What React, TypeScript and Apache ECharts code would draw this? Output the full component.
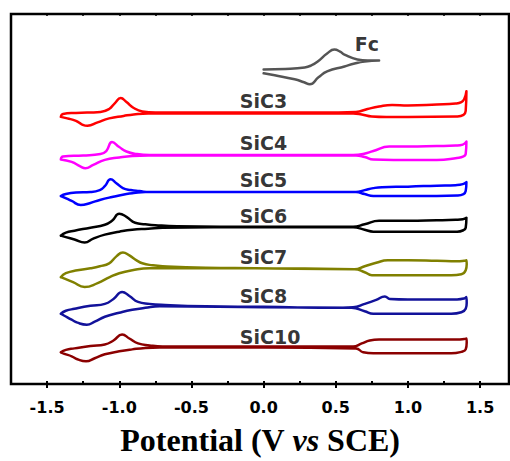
import React, { useEffect, useRef } from "react";
import * as echarts from "echarts";

// Sample names, colours and the vertical offset of each stacked voltammogram
const sampleNames = ["Fc", "SiC3", "SiC4", "SiC5", "SiC6", "SiC7", "SiC8", "SiC10"];
const sampleColors = ["#555555", "#ff0000", "#ff00ff", "#0000ff", "#000000", "#808000", "#12129a", "#8b0000"];
const baselineOffsets = [318, 274, 231.5, 194, 159, 117, 78, 38];
// label anchor (potential, stacked current) for each sample name
const labelAnchors: [number, number][] = [
  [0.631, 344], [-0.165, 286], [-0.165, 243.5], [-0.165, 206.5],
  [-0.165, 169.5], [-0.165, 128], [-0.165, 88.5], [-0.165, 48],
];

// x-axis tick labels
const potentialTicks = [-1.5, -1.0, -0.5, 0.0, 0.5, 1.0, 1.5];

// Each curve: [potential (V vs SCE), current relative to its baseline (a.u.)]
const fc: [number, number][] = [
  [0.0, 0], [0.15, 0.5], [0.285, 2], [0.33, 4], [0.375, 8], [0.44, 16], [0.49, 20], [0.53, 18],
  [0.56, 15], [0.65, 10], [0.72, 9], [0.80, 9],
  [0.70, 8], [0.63, 6], [0.56, 3], [0.44, -2], [0.38, -8], [0.32, -15], [0.28, -13],
  [0.215, -10], [0.077, -6], [0.0, -4],
];
const sic3: [number, number][] = [
  [-1.405, -4], [-1.39, -1], [-1.30, 0], [-1.13, 1], [-1.07, 4], [-1.03, 10], [-0.99, 15], [-0.95, 11],
  [-0.90, 5], [-0.84, 1.5], [-0.75, 0.5], [0.52, 0.5], [0.64, 1], [0.72, 4], [0.80, 6.5], [0.89, 8],
  [1.00, 7.5], [1.20, 8.5], [1.33, 9.5], [1.37, 11], [1.39, 14], [1.405, 22],
  [1.40, 2], [1.385, -2], [1.34, -3.5], [1.0, -4], [0.85, -4], [0.75, -3.5], [0.68, -1.5], [0.62, -0.5],
  [-0.80, -0.5], [-0.90, -1.5], [-0.97, -3], [-1.07, -5.5], [-1.15, -9.5], [-1.22, -13], [-1.26, -11.5],
  [-1.30, -8], [-1.36, -5.5], [-1.405, -4],
];
const sic4: [number, number][] = [
  [-1.405, -4.5], [-1.39, -1.5], [-1.25, -0.5], [-1.13, 1], [-1.09, 4], [-1.05, 13], [-1.00, 8],
  [-0.95, 3.5], [-0.88, 1], [-0.79, 0], [0.62, 0], [0.69, 1], [0.76, 4], [0.87, 8.5], [1.00, 8.5],
  [1.20, 9], [1.33, 9.5], [1.38, 10.5], [1.405, 13.5],
  [1.40, 1], [1.385, -1.5], [1.34, -3], [1.2, -5], [0.9, -5], [0.76, -4.5], [0.70, -2], [0.64, -0.5],
  [-0.80, -0.5], [-0.91, -1], [-1.00, -2.5], [-1.10, -5], [-1.18, -10], [-1.235, -13.5], [-1.27, -11.5],
  [-1.33, -7], [-1.405, -4.5],
];
const sic5: [number, number][] = [
  [-1.405, -4], [-1.37, -2], [-1.30, -0.5], [-1.20, 0], [-1.135, 2], [-1.10, 6], [-1.06, 13], [-1.02, 9],
  [-0.975, 4], [-0.92, 2], [-0.86, 1], [-0.79, 0], [0.64, 0], [0.70, 2], [0.76, 4], [0.82, 5], [1.00, 5.5],
  [1.20, 6.5], [1.33, 7], [1.38, 8], [1.405, 10],
  [1.40, 1], [1.385, -2], [1.34, -3.5], [1.2, -4], [0.9, -4], [0.76, -4], [0.70, -2], [0.64, 0],
  [-0.82, 0], [-0.90, -1], [-0.95, -2], [-1.05, -5], [-1.135, -8], [-1.20, -11], [-1.267, -13],
  [-1.33, -9], [-1.38, -5.5], [-1.405, -4],
];
const sic6: [number, number][] = [
  [-1.405, -9], [-1.37, -6], [-1.31, -4], [-1.20, -1], [-1.10, 2], [-1.05, 6], [-1.00, 13], [-0.95, 10],
  [-0.89, 4], [-0.82, 2.5], [-0.75, 1.5], [-0.6, 0.5], [0.0, 0], [0.62, 0], [0.70, 2.5], [0.80, 6],
  [1.00, 6], [1.20, 6.5], [1.33, 7], [1.38, 7.5], [1.405, 9],
  [1.40, -1], [1.385, -3.5], [1.34, -5], [1.0, -5], [0.76, -5], [0.70, -3], [0.62, -0.5], [0.0, -0.5],
  [-0.70, -1], [-0.80, -2], [-0.91, -3], [-1.00, -5], [-1.10, -8], [-1.18, -12], [-1.24, -16],
  [-1.31, -13], [-1.37, -10.5], [-1.405, -9],
];
const sic7: [number, number][] = [
  [-1.405, -9], [-1.37, -5], [-1.29, -2], [-1.20, 0], [-1.135, 2], [-1.07, 5], [-1.02, 12], [-0.975, 16],
  [-0.93, 13], [-0.88, 8], [-0.84, 5], [-0.77, 3], [-0.70, 2], [-0.40, 0.5], [-0.06, 0], [0.63, -1],
  [0.70, 2], [0.78, 5.5], [0.86, 8], [1.00, 8], [1.20, 7.5], [1.34, 7], [1.39, 7.5], [1.405, 8],
  [1.407, 4], [1.40, -2], [1.37, -6], [1.30, -7], [0.90, -7], [0.75, -7], [0.70, -4], [0.63, -1],
  [-0.06, 0], [-0.79, 0], [-0.91, -2], [-1.0, -5], [-1.066, -9], [-1.15, -15], [-1.24, -19],
  [-1.32, -14], [-1.37, -11], [-1.405, -9],
];
const sic8: [number, number][] = [
  [-1.405, -7], [-1.37, -4], [-1.31, -2], [-1.20, 1], [-1.10, 3], [-1.04, 8], [-0.98, 15], [-0.93, 11],
  [-0.87, 5], [-0.79, 3], [-0.71, 2], [-0.40, 0.5], [0.0, 0], [0.55, -1], [0.62, -0.5], [0.70, 3],
  [0.78, 7], [0.84, 10.5], [0.875, 8], [1.00, 7.5], [1.20, 7.5], [1.34, 7.5], [1.39, 8.5], [1.405, 10],
  [1.407, 4], [1.40, -2], [1.37, -5.5], [1.30, -7], [0.90, -7], [0.76, -7], [0.70, -4.5], [0.61, -1],
  [0.0, -0.5], [-0.72, 0.5], [-0.82, -1], [-0.91, -3], [-1.00, -6], [-1.10, -10], [-1.17, -15],
  [-1.225, -18], [-1.29, -16], [-1.33, -13], [-1.38, -9], [-1.405, -7],
];
const sic10: [number, number][] = [
  [-1.405, -6], [-1.37, -3.5], [-1.31, -2], [-1.20, 0.5], [-1.10, 2], [-1.04, 6], [-0.98, 12], [-0.93, 8],
  [-0.87, 3], [-0.79, 1], [-0.70, 0], [0.0, 0], [0.62, 0], [0.68, 3], [0.735, 6], [0.80, 7], [1.00, 7],
  [1.20, 7], [1.34, 7], [1.39, 7.5], [1.405, 8],
  [1.407, 4], [1.40, -3], [1.37, -5.5], [1.30, -7], [0.90, -7], [0.76, -7], [0.69, -6], [0.64, -2],
  [0.0, -1], [-0.72, -1], [-0.82, -1.5], [-0.91, -3], [-1.00, -5], [-1.10, -8], [-1.17, -12],
  [-1.23, -15], [-1.29, -13], [-1.33, -10], [-1.38, -7.5], [-1.405, -6],
];
const curves = [fc, sic3, sic4, sic5, sic6, sic7, sic8, sic10];

export default function App() {
  const ref = useRef<HTMLDivElement>(null);
  useEffect(() => {
    if (!ref.current) return;
    const chart = echarts.init(ref.current, null, { renderer: "svg" });
    const W = 498;
    const xMin = -1.75;
    const xMax = 1.7;
    const pxPerV = W / (xMax - xMin);
    const lineSeries = curves.map((c, i) => ({
      type: "line",
      name: sampleNames[i],
      xAxisIndex: 0,
      yAxisIndex: 0,
      data: c.map(([e, d]) => [e, baselineOffsets[i] + d]),
      showSymbol: false,
      symbol: "none",
      smooth: 0.5,
      silent: true,
      lineStyle: { color: sampleColors[i], width: 2.5, join: "round", cap: "round" },
      z: 3,
    }));
    const option: any = {
      animation: false,
      backgroundColor: "#ffffff",
      grid: [
        { left: 11, top: 14, width: W, height: 374, show: true, borderColor: "#000", borderWidth: 2.5, backgroundColor: "transparent" },
        { left: 11 + (potentialTicks[0] - xMin) * pxPerV, top: 14, width: (potentialTicks[potentialTicks.length - 1] - potentialTicks[0]) * pxPerV, height: 374 },
      ],
      xAxis: [
        {
          gridIndex: 0, type: "value", min: xMin, max: xMax, interval: 0.25,
          axisLine: { show: false },
          axisTick: { show: true, inside: true, length: 3, lineStyle: { color: "#000", width: 2 } },
          axisLabel: { show: false },
          splitLine: { show: false },
          name: "Potential (V {it|vs} SCE)",
          nameLocation: "middle",
          nameGap: 40,
          nameTextStyle: {
            fontFamily: "Liberation Serif", fontWeight: "bold", fontSize: 32, color: "#000",
            rich: { it: { fontFamily: "Liberation Serif", fontWeight: "bold", fontStyle: "italic", fontSize: 32, color: "#000" } },
          },
        },
        {
          gridIndex: 0, type: "value", position: "top", min: xMin, max: xMax, interval: 0.25,
          axisLine: { show: false },
          axisTick: { show: true, inside: true, length: 2, lineStyle: { color: "#000", width: 1.5 } },
          axisLabel: { show: false },
          splitLine: { show: false },
        },
        {
          gridIndex: 1, type: "value", min: potentialTicks[0], max: potentialTicks[potentialTicks.length - 1], interval: 0.5,
          axisLine: { show: false },
          axisTick: { show: true, inside: true, length: 6, lineStyle: { color: "#000", width: 2 } },
          axisLabel: {
            show: true, margin: 11, color: "#000", fontFamily: "DejaVu Sans", fontWeight: "bold", fontSize: 16,
            formatter: (v: number) => v.toFixed(1),
          },
          splitLine: { show: false },
        },
      ],
      yAxis: [
        { gridIndex: 0, type: "value", min: 0, max: 374, show: false },
        { gridIndex: 1, type: "value", min: 0, max: 374, show: false },
      ],
      series: [
        ...lineSeries,
        {
          type: "scatter",
          xAxisIndex: 0,
          yAxisIndex: 0,
          symbolSize: 0,
          silent: true,
          data: sampleNames.map((n, i) => ({ name: n, value: labelAnchors[i] })),
          label: {
            show: true, formatter: "{b}", position: "inside", align: "left", verticalAlign: "middle",
            fontFamily: "DejaVu Sans", fontWeight: "bold", fontSize: 19, color: "#000",
          },
          z: 5,
        },
      ],
    };
    chart.setOption(option);
    return () => chart.dispose();
  }, []);
  return <div ref={ref} style={{ position: "absolute", left: 0, top: 0, width: 510, height: 461, background: "#fff" }} />;
}
